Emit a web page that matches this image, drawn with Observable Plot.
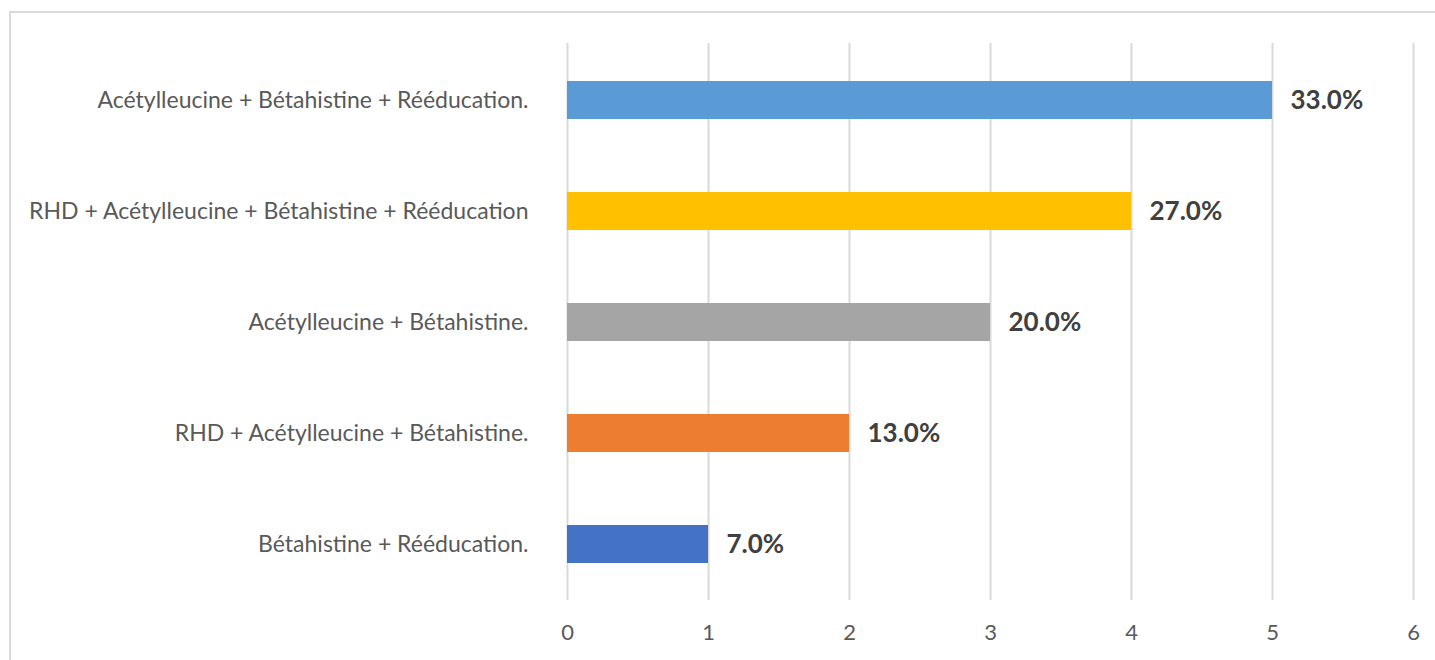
<!DOCTYPE html>
<html><head><meta charset="utf-8">
<script src="https://cdn.jsdelivr.net/npm/d3@7"></script>
<script src="https://cdn.jsdelivr.net/npm/@observablehq/plot@0.6"></script>
<style>
html,body{margin:0;padding:0;background:#fff;overflow:hidden;}
#wrap{position:relative;width:1435px;height:660px;}
#border{position:absolute;left:9px;top:11px;width:1440px;height:660px;border:2px solid #d9d9d9;box-sizing:border-box;}
#chart{position:absolute;left:0;top:0;}
</style></head>
<body><div id="wrap"><div id="border"></div><div id="chart"></div></div>
<script>
const categories = [
  "Acétylleucine + Bétahistine + Rééducation.",
  "RHD + Acétylleucine + Bétahistine + Rééducation",
  "Acétylleucine + Bétahistine.",
  "RHD + Acétylleucine + Bétahistine.",
  "Bétahistine + Rééducation."
];
const values = [5, 4, 3, 2, 1];
const percentLabels = ["33.0%", "27.0%", "20.0%", "13.0%", "7.0%"];
const colors = ["#5B9BD5", "#FFC000", "#A5A5A5", "#ED7D31", "#4472C4"];
const xTicks = [0, 1, 2, 3, 4, 5, 6];

const data = categories.map((c, i) => ({cat: c, v: values[i], label: percentLabels[i], color: colors[i]}));

const chart = Plot.plot({
  width: 1435,
  height: 660,
  marginLeft: 567,
  marginRight: 22,
  marginTop: 43,
  marginBottom: 60,
  style: {fontFamily: "Lato, 'Open Sans', sans-serif", background: "transparent"},
  x: {domain: [0, 6], ticks: xTicks, label: null, grid: false},
  y: {domain: categories, paddingInner: 0.66, paddingOuter: 0.33, label: null},
  marks: [
    Plot.ruleX(xTicks, {stroke: "#d9d9d9", strokeWidth: 2, strokeOpacity: 1}),
    Plot.barX(data, {y: "cat", x: "v", fill: "color"}),
    Plot.text(data, {y: "cat", x: "v", text: "label", dx: 18, textAnchor: "start", fontWeight: "bold", fontSize: 26, fill: "#404040"}),
    Plot.axisY({tickSize: 0, tickPadding: 39, fontSize: 23, color: "#595959"}),
    Plot.axisX({ticks: xTicks, tickSize: 0, tickPadding: 24, fontSize: 22, color: "#595959", tickFormat: d => String(d)})
  ]
});
document.getElementById("chart").appendChild(chart);
</script></body></html>
